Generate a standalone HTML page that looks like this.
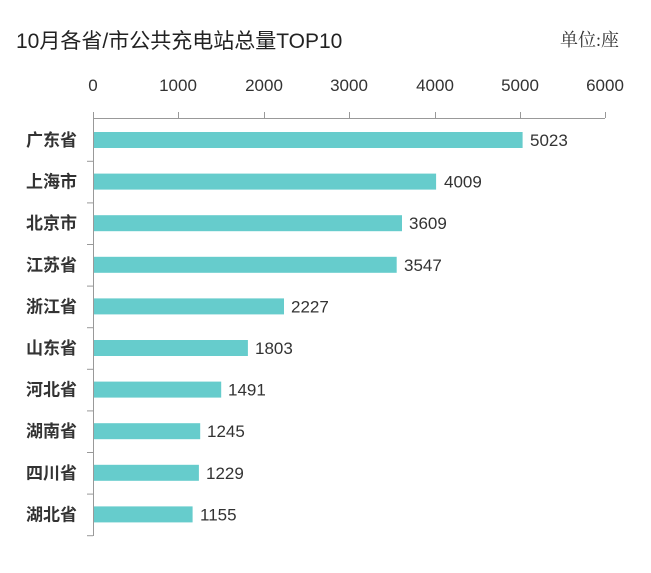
<!DOCTYPE html>
<html><head><meta charset="utf-8"><style>
body{margin:0;background:#fff}
</style></head><body>
<svg width="651" height="568" xmlns="http://www.w3.org/2000/svg" font-family="Liberation Sans, Noto Sans CJK SC, sans-serif">
<rect width="651" height="568" fill="#fff"/>
<text x="16" y="48" font-size="21" fill="#222">10月各省/市公共充电站总量TOP10</text>
<text x="560" y="46" font-size="18" fill="#333" font-family="Liberation Serif, Noto Serif CJK SC, serif">单位:座</text>
<g font-size="17" fill="#333" text-anchor="middle">
<text x="93" y="91">0</text><text x="178" y="91">1000</text><text x="264" y="91">2000</text><text x="349" y="91">3000</text><text x="435" y="91">4000</text><text x="520" y="91">5000</text><text x="605" y="91">6000</text>
</g>
<g stroke="#999" stroke-width="1">
<line x1="93" y1="118.5" x2="605" y2="118.5"/>
<line x1="93.5" y1="112" x2="93.5" y2="536"/>
<line x1="178.5" y1="112" x2="178.5" y2="118"/><line x1="264.5" y1="112" x2="264.5" y2="118"/><line x1="349.5" y1="112" x2="349.5" y2="118"/><line x1="435.5" y1="112" x2="435.5" y2="118"/><line x1="520.5" y1="112" x2="520.5" y2="118"/><line x1="605.5" y1="112" x2="605.5" y2="118"/>
<line x1="87" x2="93" y1="161.3" y2="161.3"/><line x1="87" x2="93" y1="202.9" y2="202.9"/><line x1="87" x2="93" y1="244.5" y2="244.5"/><line x1="87" x2="93" y1="286.1" y2="286.1"/><line x1="87" x2="93" y1="327.7" y2="327.7"/><line x1="87" x2="93" y1="369.3" y2="369.3"/><line x1="87" x2="93" y1="410.9" y2="410.9"/><line x1="87" x2="93" y1="452.5" y2="452.5"/><line x1="87" x2="93" y1="494.1" y2="494.1"/><line x1="87" x2="93" y1="535.7" y2="535.7"/>
</g>
<g fill="#66cccc">
<rect x="94" y="132" width="428.6" height="16"/>
<rect x="94" y="173.6" width="342.1" height="16"/>
<rect x="94" y="215.2" width="308" height="16"/>
<rect x="94" y="256.8" width="302.7" height="16"/>
<rect x="94" y="298.4" width="190" height="16"/>
<rect x="94" y="340" width="153.9" height="16"/>
<rect x="94" y="381.6" width="127.2" height="16"/>
<rect x="94" y="423.2" width="106.2" height="16"/>
<rect x="94" y="464.8" width="104.9" height="16"/>
<rect x="94" y="506.4" width="98.6" height="16"/>
</g>
<g font-size="17" font-weight="bold" fill="#333" text-anchor="end">
<text x="77" y="146">广东省</text>
<text x="77" y="187.6">上海市</text>
<text x="77" y="229.2">北京市</text>
<text x="77" y="270.8">江苏省</text>
<text x="77" y="312.4">浙江省</text>
<text x="77" y="354">山东省</text>
<text x="77" y="395.6">河北省</text>
<text x="77" y="437.2">湖南省</text>
<text x="77" y="478.8">四川省</text>
<text x="77" y="520.4">湖北省</text>
</g>
<g font-size="17" fill="#333">
<text x="530" y="146">5023</text>
<text x="444" y="187.6">4009</text>
<text x="409" y="229.2">3609</text>
<text x="404" y="270.8">3547</text>
<text x="291" y="312.4">2227</text>
<text x="255" y="354">1803</text>
<text x="228" y="395.6">1491</text>
<text x="207" y="437.2">1245</text>
<text x="206" y="478.8">1229</text>
<text x="200" y="520.4">1155</text>
</g>
</svg>
</body></html>
